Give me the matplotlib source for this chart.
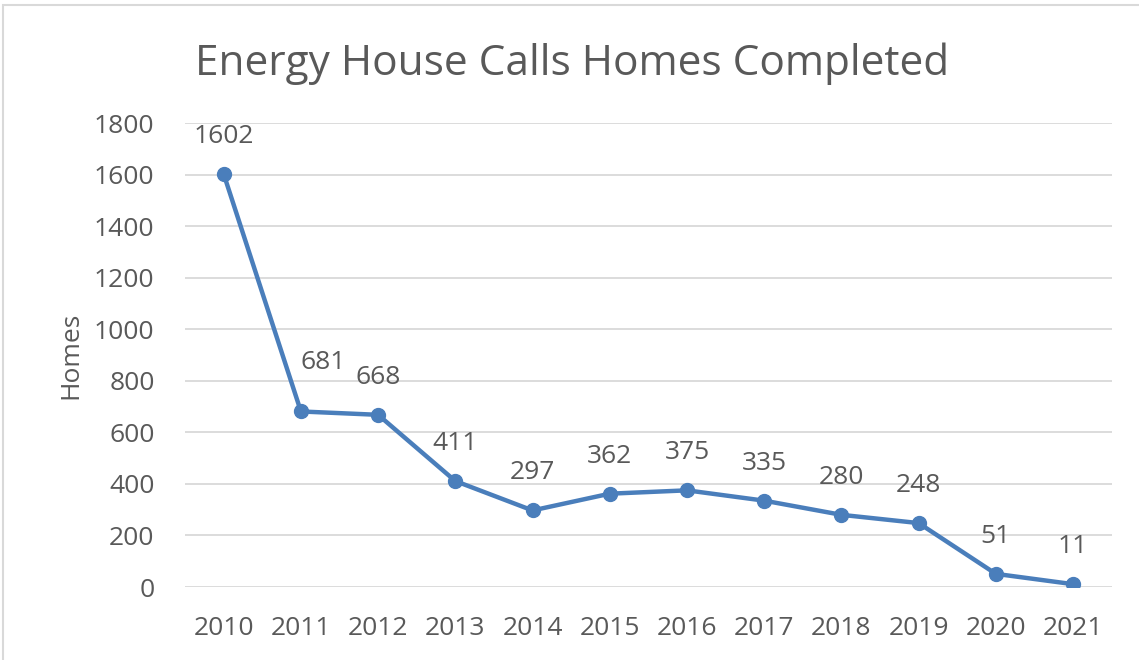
import matplotlib.pyplot as plt
from matplotlib.patches import Rectangle

years = ["2010", "2011", "2012", "2013", "2014", "2015",
         "2016", "2017", "2018", "2019", "2020", "2021"]
homes = [1602, 681, 668, 411, 297, 362, 375, 335, 280, 248, 51, 11]
yticks = [0, 200, 400, 600, 800, 1000, 1200, 1400, 1600, 1800]

plt.rcParams['font.family'] = ['Open Sans', 'DejaVu Sans']
grey = "#595959"
blue = "#4A7EBB"

fig = plt.figure(figsize=(11.39, 6.6), dpi=100)
ax = fig.add_axes([0.1625, 0.1106, 0.8135, 0.703])

x = list(range(len(years)))
ax.plot(x, homes, color=blue, lw=3.2, marker="o", ms=10, zorder=3)

# data labels above the points (681 is nudged off the line, like in Excel)
for i, v in enumerate(homes):
    dx, dy = (16, 35) if v == 681 else (0, 27)
    ax.annotate(f"{v}", (i, v), xytext=(dx, dy), textcoords="offset points",
                ha="center", va="center", fontsize=19, color=grey)

ax.set_xlim(-0.5, len(years) - 0.5)
ax.set_ylim(0, 1800)
ax.set_yticks(yticks)
ax.set_xticks(x)
ax.set_xticklabels(years)
ax.tick_params(length=0, labelsize=19, labelcolor=grey)
ax.tick_params(axis="y", pad=22)
ax.tick_params(axis="x", pad=21)
ax.grid(axis="y", color="#D9D9D9", lw=1.3)
ax.set_axisbelow(True)
for s in ax.spines.values():
    s.set_visible(False)

ax.set_ylabel("Homes", fontsize=19, color=grey, labelpad=8)
fig.text(0.502, 0.904, "Energy House Calls Homes Completed", ha="center", va="center",
         fontsize=30.5, color=grey)

# chart frame
fig.patches.append(Rectangle((0.003, -0.05), 1.1, 1.042, transform=fig.transFigure,
                             fill=False, edgecolor="#D9D9D9", lw=1.5))

fig.savefig("out.png", dpi=100)
